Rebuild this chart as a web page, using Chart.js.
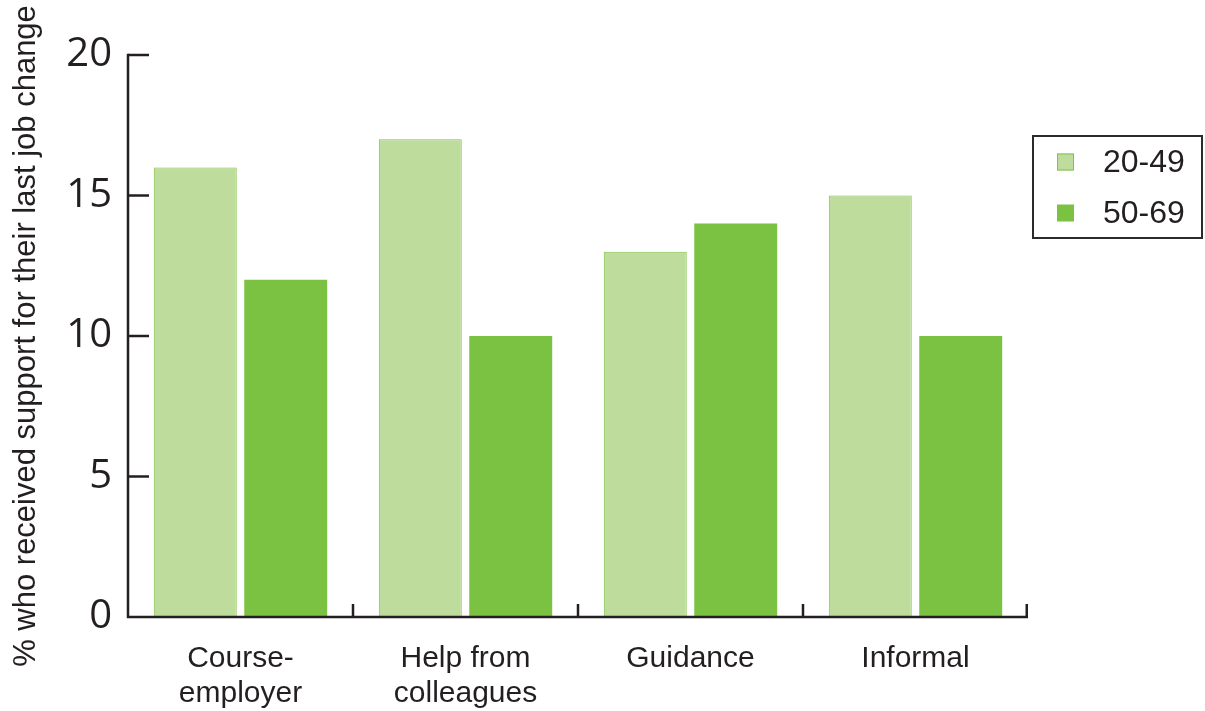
<!DOCTYPE html>
<html>
<head>
<meta charset="utf-8">
<style>
  html, body { margin: 0; padding: 0; background: #ffffff; }
  #wrap { width: 1205px; height: 711px; }
</style>
<script src="https://cdn.jsdelivr.net/npm/chart.js@4/dist/chart.umd.min.js"></script>
</head>
<body>
<div id="wrap"><canvas id="chart" width="1205" height="711"></canvas></div>
<script>
// Support types, split over two lines where the label wraps
const categories = [["Course-", "employer"], ["Help from", "colleagues"], ["Guidance"], ["Informal"]];
const seriesNames = ["20-49", "50-69"];
const values2049 = [16, 17, 13, 15];
const values5069 = [12, 10, 14, 10];
const yTicks = [0, 5, 10, 15, 20];
const yTitle = "% who received support for their last job change";

const INK = "#231f20";
const LIGHT = "#bedd9c";
const LIGHT_EDGE = "#80c44a";
const DARK = "#7cc242";
const FONT = "'Liberation Sans', Arial, sans-serif";

// Axis lines with inward ticks, drawn on top of the bars
const axisPlugin = {
  id: "axisLines",
  afterDatasetsDraw(chart) {
    const { ctx, chartArea: a, scales: { x, y } } = chart;
    ctx.save();
    ctx.strokeStyle = INK;
    ctx.lineWidth = 2.5;
    ctx.lineCap = "butt";
    ctx.beginPath();
    ctx.moveTo(a.left, y.getPixelForValue(yTicks[yTicks.length - 1]) - 1.25);
    ctx.lineTo(a.left, a.bottom);
    ctx.lineTo(a.right, a.bottom);
    ctx.stroke();
    // value ticks, pointing into the plot
    yTicks.forEach(v => {
      if (v === 0) return;
      const py = y.getPixelForValue(v);
      ctx.beginPath();
      ctx.moveTo(a.left, py);
      ctx.lineTo(a.left + 21, py);
      ctx.stroke();
    });
    // category boundary ticks, pointing up
    const n = categories.length;
    const step = (a.right - a.left) / n;
    for (let i = 1; i <= n; i++) {
      const px = i === n ? a.right - 1.25 : a.left + step * i;
      ctx.beginPath();
      ctx.moveTo(px, a.bottom);
      ctx.lineTo(px, a.bottom - 13);
      ctx.stroke();
    }
    ctx.restore();
  }
};

// Boxed legend to the right of the plot
const legendPlugin = {
  id: "boxLegend",
  afterDraw(chart) {
    const { ctx } = chart;
    ctx.save();
    ctx.strokeStyle = "#2b2b2b";
    ctx.lineWidth = 2;
    ctx.strokeRect(1033, 136, 169, 102);
    ctx.font = "32px " + FONT;
    ctx.textBaseline = "middle";
    ctx.textAlign = "left";
    chart.data.datasets.forEach((ds, i) => {
      const cy = 162 + i * 51;
      ctx.fillStyle = ds.backgroundColor;
      ctx.fillRect(1057, cy - 8.5, 17, 17);
      if (ds.borderWidth) {
        ctx.strokeStyle = ds.borderColor;
        ctx.lineWidth = 1;
        ctx.strokeRect(1057.5, cy - 8, 16, 16);
      }
      ctx.fillStyle = INK;
      ctx.fillText(ds.label, 1103, cy + 1);
    });
    ctx.restore();
  }
};

new Chart(document.getElementById("chart"), {
  type: "bar",
  data: {
    labels: categories,
    datasets: [
      { label: seriesNames[0], data: values2049, backgroundColor: LIGHT, borderColor: LIGHT_EDGE, borderWidth: 1 },
      { label: seriesNames[1], data: values5069, backgroundColor: DARK, borderColor: DARK, borderWidth: 0 }
    ]
  },
  options: {
    responsive: false,
    animation: false,
    events: [],
    layout: { padding: { top: 55, right: 177, left: 0, bottom: 0 } },
    datasets: { bar: { categoryPercentage: 0.804, barPercentage: 0.917 } },
    plugins: { legend: { display: false }, tooltip: { enabled: false } },
    scales: {
      x: {
        grid: { display: false, drawTicks: false },
        border: { display: false },
        ticks: { color: INK, font: { family: FONT, size: 30, lineHeight: 1.17 }, padding: 24, maxRotation: 0 },
        afterFit(s) { s.height = 94; }
      },
      y: {
        min: yTicks[0],
        max: yTicks[yTicks.length - 1],
        grid: { display: false, drawTicks: false },
        border: { display: false },
        afterBuildTicks(s) { s.ticks = yTicks.map(v => ({ value: v })); },
        ticks: { color: INK, font: { family: "'Open Sans', sans-serif", size: 40 }, padding: 16 },
        title: { display: true, text: yTitle, color: INK, font: { family: FONT, size: 31 }, padding: { top: 8, bottom: 0 } },
        afterFit(s) { s.width = 128; }
      }
    }
  },
  plugins: [axisPlugin, legendPlugin]
});
</script>
</body>
</html>
